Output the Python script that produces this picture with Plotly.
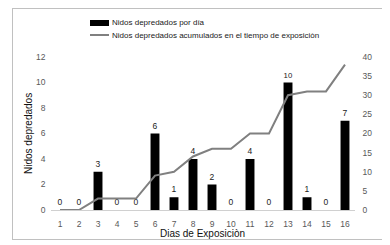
import plotly.graph_objects as go

dias = list(range(1, 17))
nidos_por_dia = [0, 0, 3, 0, 0, 6, 1, 4, 2, 0, 4, 0, 10, 1, 0, 7]
nidos_acumulados = [0, 0, 3, 3, 3, 9, 10, 14, 16, 16, 20, 20, 30, 31, 31, 38]
left_ticks = [0, 2, 4, 6, 8, 10, 12]
right_ticks = [0, 5, 10, 15, 20, 25, 30, 35, 40]

name_bar = "Nidos depredados por día"
name_line = "Nidos depredados acumulados en el tiempo de exposiciòn"
x_title = "Dias de Exposiciòn"
y_title = "Nidos depredados"

FONT = "Liberation Sans Narrow, Liberation Sans, Arial, sans-serif"
TICK = "#595959"

# page has an 8px body margin, so figure pixel = reference pixel - 8
OFF = 8
W, H = 390 - OFF, 245 - OFF
# outer frame (chart border) in figure pixels
FL, FR, FT, FB = 5, 377, 1, 231
# inner plot area in reference pixels
PL, PR, PT, PB = 50.5, 354.5, 57, 210


def px(x):
    return (x - OFF - FL) / (FR - FL)


def py(y):
    return (FB - (y - OFF)) / (FB - FT)


fig = go.Figure()
fig.add_trace(go.Bar(
    x=dias, y=nidos_por_dia, name=name_bar, width=0.47,
    marker=dict(color="black", line=dict(width=0)),
    text=[str(v) for v in nidos_por_dia], textposition="outside",
    textfont=dict(family=FONT, size=8.5, color="#222"), cliponaxis=False,
    showlegend=False,
))
fig.add_trace(go.Scatter(
    x=dias, y=nidos_acumulados, name=name_line, yaxis="y2", mode="lines",
    line=dict(color="#808080", width=2), showlegend=False,
))
# empty trace that only carries the frame axes
fig.add_trace(go.Scatter(x=[None], y=[None], xaxis="x3", yaxis="y3",
                         showlegend=False, hoverinfo="skip"))

shapes = [
    dict(type="rect", xref="paper", yref="paper", x0=px(90), x1=px(109), y0=py(26), y1=py(20),
         line=dict(width=0), fillcolor="black"),
    dict(type="line", xref="paper", yref="paper", x0=px(90), x1=px(109), y0=py(35), y1=py(35),
         line=dict(color="#808080", width=2)),
]
annotations = [
    dict(xref="paper", yref="paper", x=px(110), y=py(23), text=name_bar, showarrow=False,
         xanchor="left", yanchor="middle", font=dict(family=FONT, size=8, color="#1a1a1a")),
    dict(xref="paper", yref="paper", x=px(110), y=py(35), text=name_line, showarrow=False,
         xanchor="left", yanchor="middle", font=dict(family=FONT, size=8, color="#1a1a1a")),
    dict(xref="paper", yref="paper", x=(px(PL) + px(PR)) / 2, y=py(233), text=x_title,
         showarrow=False, xanchor="center", yanchor="middle",
         font=dict(family=FONT, size=10, color="#111")),
    dict(xref="paper", yref="paper", x=px(28), y=py(134), text=y_title, showarrow=False,
         textangle=-90, xanchor="center", yanchor="middle",
         font=dict(family=FONT, size=10, color="#111")),
]

fig.update_layout(
    width=W, height=H,
    margin=dict(l=FL, r=W - FR, t=FT, b=H - FB, pad=0, autoexpand=False),
    paper_bgcolor="white", plot_bgcolor="rgba(0,0,0,0)",
    font=dict(family=FONT, size=8, color=TICK),
    bargap=0.53,
    shapes=shapes, annotations=annotations,
    xaxis=dict(domain=[px(PL), px(PR)], anchor="y",
               range=[0.5, 16.5], tickmode="array", tickvals=dias,
               ticktext=[str(d) for d in dias], showgrid=False, zeroline=False,
               showline=True, linecolor="#d0d0d0", linewidth=1, ticks="", automargin=False,
               ticklabelstandoff=6,
               tickfont=dict(family=FONT, size=8.5, color=TICK)),
    yaxis=dict(domain=[py(PB), py(PT)], anchor="x",
               range=[0, 12], tickmode="array", tickvals=left_ticks, showgrid=False,
               zeroline=False, showline=False, ticks="", automargin=False,
               ticklabelstandoff=4,
               tickfont=dict(family=FONT, size=8.5, color=TICK)),
    yaxis2=dict(range=[0, 40], tickmode="array", tickvals=right_ticks, overlaying="y",
                anchor="x", side="right", showgrid=False, zeroline=False, showline=False,
                ticks="", automargin=False, ticklabelstandoff=7,
                tickfont=dict(family=FONT, size=8.5, color=TICK)),
    xaxis3=dict(domain=[0, 1], anchor="y3", range=[0, 1], showline=True, mirror=True,
                linecolor="#c0c0c0", linewidth=1, showticklabels=False, ticks="",
                showgrid=False, zeroline=False, fixedrange=True),
    yaxis3=dict(domain=[0, 1], anchor="x3", range=[0, 1], showline=True, mirror=True,
                linecolor="#c0c0c0", linewidth=1, showticklabels=False, ticks="",
                showgrid=False, zeroline=False, fixedrange=True),
)

fig.write_html("out.html")
